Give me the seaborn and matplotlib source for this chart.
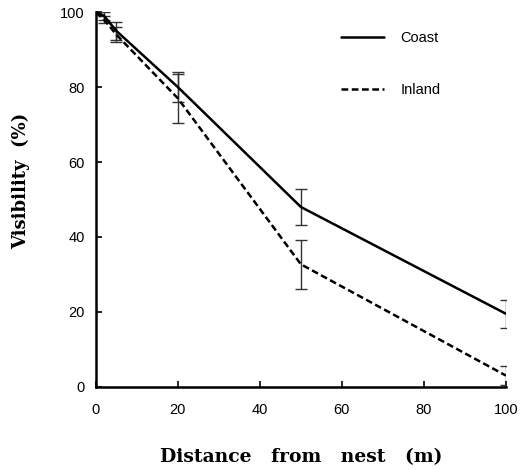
import numpy as np
import pandas as pd
import matplotlib
matplotlib.use("Agg")
import matplotlib.pyplot as plt
import seaborn as sns

# Данные
distance = [0, 2, 5, 20, 50, 100]
coast_mean = [100, 99, 95, 80, 48, 19.5]
coast_err = [0, 1.0, 2.5, 4.0, 4.8, 3.7]
inland_mean = [100, 98, 94, 77, 32.7, 3]
inland_err = [0, 1.0, 2.0, 6.5, 6.5, 2.5]

sns.set_style("ticks", {"axes.edgecolor": "black", "xtick.color": "black",
                        "ytick.color": "black", "text.color": "black",
                        "axes.labelcolor": "black"})
plt.rcParams["font.family"] = ["Liberation Sans", "DejaVu Sans"]

df = pd.DataFrame({
    "distance": distance * 2,
    "visibility": coast_mean + inland_mean,
    "err": coast_err + inland_err,
    "site": ["Coast"] * len(distance) + ["Inland"] * len(distance),
})

fig = plt.figure(figsize=(5.27, 4.70), dpi=100)
ax = fig.add_axes([0.182, 0.177, 0.778, 0.797])

# Планки погрешностей
for site, g in df.groupby("site"):
    ax.errorbar(g["distance"], g["visibility"], yerr=g["err"], fmt="none",
                ecolor="#333333", elinewidth=1.0, capsize=4, capthick=1.0, zorder=2)

sns.lineplot(data=df, x="distance", y="visibility", style="site",
             color="black", linewidth=1.8,
             dashes={"Coast": "", "Inland": (2.7, 1.4)}, ax=ax, zorder=3)

ax.set_xlim(0, 100)
ax.set_ylim(0, 100)
ax.set_xticks(np.arange(0, 101, 20))
ax.set_yticks(np.arange(0, 101, 20))
ax.tick_params(direction="in", length=4, width=1.2, labelsize=10.5, pad=12,
               colors="black")
ax.tick_params(axis="y", pad=8)
sns.despine(ax=ax)
for s in ["left", "bottom"]:
    ax.spines[s].set_linewidth(1.8)
    ax.spines[s].set_color("black")

ax.set_xlabel("Distance   from   nest   (m)", family="DejaVu Serif",
              fontweight="bold", fontsize=13.5, labelpad=22)
ax.set_ylabel("Visibility  (%)", family="DejaVu Serif",
              fontweight="bold", fontsize=13)
ax.yaxis.set_label_coords(-0.16, 0.55)

leg = ax.legend(loc="upper left", bbox_to_anchor=(0.565, 0.985), frameon=False,
                handlelength=3.0, labelspacing=2.6, handletextpad=1.1,
                fontsize=10.5, title=None)

fig.savefig("out.png", dpi=100)
